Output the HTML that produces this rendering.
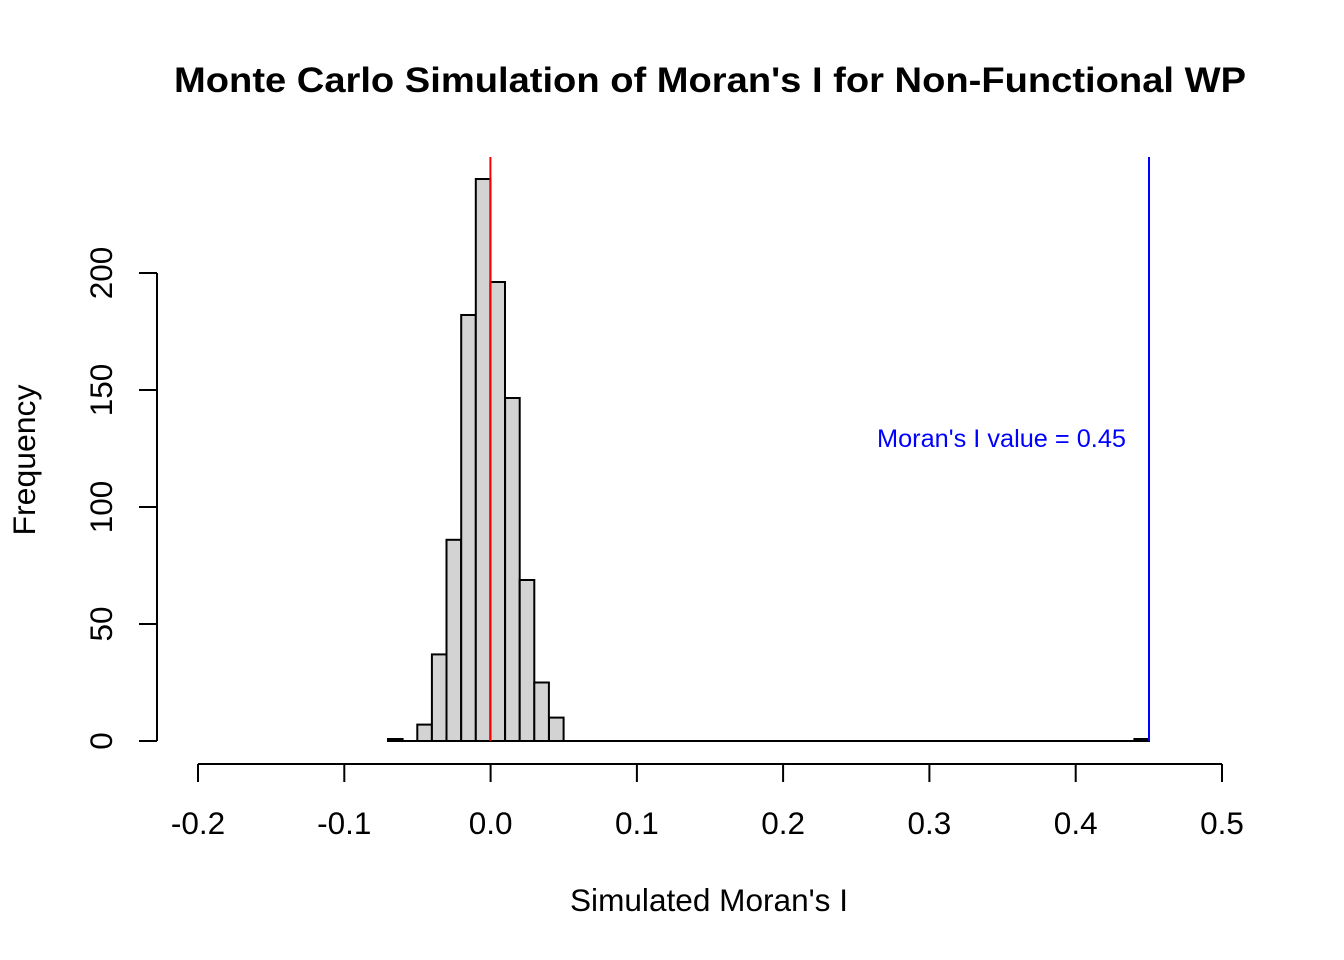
<!DOCTYPE html>
<html><head><meta charset="utf-8"><style>body{margin:0;background:#fff}svg{display:block}</style></head><body>
<svg width="1344" height="960" xmlns="http://www.w3.org/2000/svg" font-family="Liberation Sans, Arial, sans-serif">
<rect width="1344" height="960" fill="#fff"/>
<text x="710" y="92" text-anchor="middle" font-weight="bold" font-size="35" textLength="1072" lengthAdjust="spacingAndGlyphs">Monte Carlo Simulation of Moran's I for Non-Functional WP</text>
<g stroke="#000" stroke-width="2" fill="#d3d3d3">
<line x1="388" y1="741" x2="1149" y2="741"/>
<rect x="388" y="739" width="14.6" height="2"/>
<rect x="417.3" y="724.6" width="14.6" height="16.4"/>
<rect x="431.9" y="654.4" width="14.6" height="86.6"/>
<rect x="446.5" y="539.8" width="14.6" height="201.2"/>
<rect x="461.2" y="315" width="14.6" height="426"/>
<rect x="475.8" y="179" width="14.6" height="562"/>
<rect x="490.4" y="282" width="14.6" height="459"/>
<rect x="505.1" y="398" width="14.6" height="343"/>
<rect x="519.7" y="580" width="14.6" height="161"/>
<rect x="534.3" y="682.5" width="14.6" height="58.5"/>
<rect x="549" y="717.6" width="14.6" height="23.4"/>
<rect x="1134.4" y="739" width="14.6" height="2"/>
</g>
<line x1="490.4" y1="157" x2="490.4" y2="741" stroke="#f00" stroke-width="2"/>
<line x1="1149" y1="157" x2="1149" y2="741" stroke="#00f" stroke-width="2"/>
<text x="1126" y="447" text-anchor="end" fill="#00f" font-size="25" textLength="249" lengthAdjust="spacingAndGlyphs">Moran's I value = 0.45</text>
<g stroke="#000" stroke-width="2">
<line x1="198" y1="764" x2="1222" y2="764"/>
<line x1="198" y1="764" x2="198" y2="782"/><line x1="344.3" y1="764" x2="344.3" y2="782"/>
<line x1="490.6" y1="764" x2="490.6" y2="782"/><line x1="636.9" y1="764" x2="636.9" y2="782"/>
<line x1="783.1" y1="764" x2="783.1" y2="782"/><line x1="929.4" y1="764" x2="929.4" y2="782"/>
<line x1="1075.7" y1="764" x2="1075.7" y2="782"/><line x1="1222" y1="764" x2="1222" y2="782"/>
<line x1="157" y1="273" x2="157" y2="741"/>
<line x1="139" y1="741" x2="157" y2="741"/><line x1="139" y1="624" x2="157" y2="624"/>
<line x1="139" y1="507" x2="157" y2="507"/><line x1="139" y1="390" x2="157" y2="390"/>
<line x1="139" y1="273" x2="157" y2="273"/>
</g>
<g font-size="31.5" text-anchor="middle">
<text x="198" y="834">-0.2</text><text x="344.3" y="834">-0.1</text><text x="490.6" y="834">0.0</text>
<text x="636.9" y="834">0.1</text><text x="783.1" y="834">0.2</text><text x="929.4" y="834">0.3</text>
<text x="1075.7" y="834">0.4</text><text x="1222" y="834">0.5</text>
<text transform="translate(112,741) rotate(-90)">0</text>
<text transform="translate(112,624) rotate(-90)">50</text>
<text transform="translate(112,507) rotate(-90)">100</text>
<text transform="translate(112,390) rotate(-90)">150</text>
<text transform="translate(112,273) rotate(-90)">200</text>
<text x="709" y="911" textLength="278" lengthAdjust="spacingAndGlyphs">Simulated Moran's I</text>
<text transform="translate(35,460) rotate(-90)" textLength="151" lengthAdjust="spacingAndGlyphs">Frequency</text>
</g>
</svg>
</body></html>
